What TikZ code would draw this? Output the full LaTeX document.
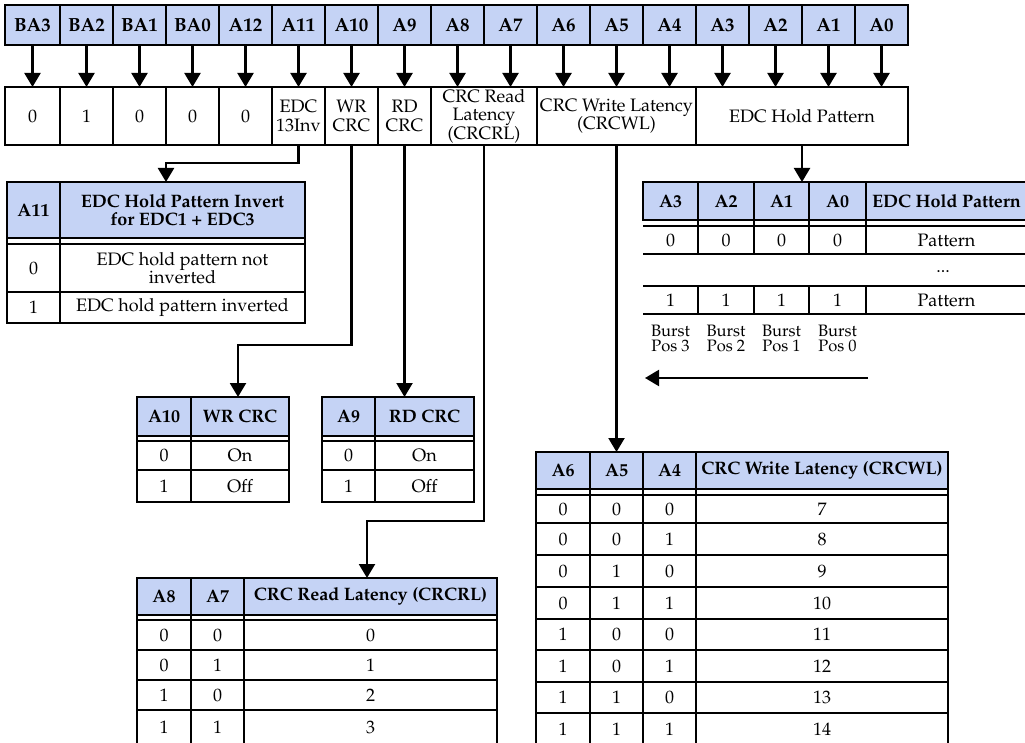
\documentclass[tikz,border=0pt]{standalone}
\usepackage[T1]{fontenc}
\renewcommand{\rmdefault}{ppl}
\usetikzlibrary{arrows.meta}
\definecolor{hdr}{RGB}{197,211,245}
\newcommand{\regf}{\fontsize{18}{18.5}\selectfont}
\newcommand{\boldf}{\fontsize{18}{18.5}\selectfont\bfseries}
\newcommand{\topf}{\fontsize{19}{19}\selectfont\bfseries}
\newcommand{\burstf}{\fontsize{16.5}{15}\selectfont}
\newcommand{\mkcell}[7]{\node[#1, minimum width={#4pt-#3pt}, minimum height={#6pt-#5pt}] (#2) at (#3,#5) {#7};}
\tikzset{
  every node/.style={outer sep=0pt},
  cellb/.style={draw, line width=2.2pt, inner sep=1pt, anchor=north west, align=center, font=\regf},
  hcell/.style={cellb, fill=hdr, font=\boldf},
  tcell/.style={hcell, font=\topf},
  bcell/.style={cellb},
  ncell/.style={inner sep=1pt, anchor=north west, align=center, font=\regf},
  conn/.style={line width=2.2pt, -{Triangle[width=16pt,length=14pt]}},
  rule/.style={line width=2.2pt},
}
\begin{document}
\begin{tikzpicture}[x=1pt,y=-1pt]
\path[fill=white] (0,0) rectangle (1025,743);
\useasboundingbox (0,0) rectangle (1025,743);

% top row
\node[tcell, minimum width=55pt, minimum height=40pt] (t0) at (5,5) {BA3};
\foreach \i/\l in {1/BA2,2/BA1,3/BA0,4/A12,5/A11,6/A10,7/A9,8/A8,9/A7,10/A6,11/A5,12/A4,13/A3,14/A2,15/A1,16/A0}
  \node[tcell, minimum width=53pt, minimum height=40pt] (t\i) at ({7+53*\i},5) {\l};

% second row
\mkcell{bcell}{b0}{5}{60}{87}{145}{0}
\mkcell{bcell}{b1}{60}{113}{87}{145}{1}
\mkcell{bcell}{b2}{113}{166}{87}{145}{0}
\mkcell{bcell}{b3}{166}{219}{87}{145}{0}
\mkcell{bcell}{b4}{219}{272}{87}{145}{0}
\mkcell{bcell}{b5}{272}{325}{87}{145}{EDC\\13Inv}
\mkcell{bcell}{b6}{325}{378}{87}{145}{WR\\CRC}
\mkcell{bcell}{b7}{378}{431}{87}{145}{RD\\CRC}
\mkcell{bcell}{b8}{431}{537}{87}{145}{CRC Read\\Latency\\(CRCRL)}
\mkcell{bcell}{b9}{537}{696}{87}{145}{CRC Write Latency\\(CRCWL)}
\mkcell{bcell}{b10}{696}{908}{87}{145}{EDC Hold Pattern}

\foreach \i/\j in {0/0,1/1,2/2,3/3,4/4,5/5,6/6,7/7,8/8,9/8,10/9,11/9,12/9,13/10,14/10,15/10,16/10}
  \draw[conn] (t\i.south) -- (t\i.south |- b\j.north);

% A11 table
\mkcell{hcell}{a11h1}{7}{60}{182}{238}{A11}
\mkcell{hcell}{a11h2}{60}{305}{182}{238}{EDC Hold Pattern Invert\\for EDC1 + EDC3}
\mkcell{bcell}{a11a1}{7}{60}{244}{292}{0}
\mkcell{bcell}{a11a2}{60}{305}{244}{292}{EDC hold pattern not\\inverted}
\mkcell{bcell}{a11b1}{7}{60}{292}{323}{1}
\mkcell{bcell}{a11b2}{60}{305}{292}{323}{EDC hold pattern inverted}
\draw[rule] (a11h1.south west) -- (a11a1.north west) (a11h1.south east) -- (a11a1.north east) (a11h2.south east) -- (a11a2.north east);
\coordinate (k11) at (166,163);
\draw[conn] (b5.south) |- (k11) -- (k11 |- a11h2.north);

% EDC hold pattern table
\mkcell{hcell}{eh1}{643}{698}{182}{220}{A3}
\mkcell{hcell}{eh2}{698}{754}{182}{220}{A2}
\mkcell{hcell}{eh3}{754}{809}{182}{220}{A1}
\mkcell{hcell}{eh4}{809}{866}{182}{220}{A0}
\mkcell{hcell}{eh5}{866}{1027}{182}{220}{EDC Hold Pattern}
\mkcell{ncell}{ea1}{643}{698}{226}{254}{0}
\mkcell{ncell}{ea2}{698}{754}{226}{254}{0}
\mkcell{ncell}{ea3}{754}{809}{226}{254}{0}
\mkcell{ncell}{ea4}{809}{866}{226}{254}{0}
\mkcell{ncell}{ea5}{866}{1027}{226}{254}{Pattern}
\mkcell{ncell}{eb1}{643}{698}{286}{314}{1}
\mkcell{ncell}{eb2}{698}{754}{286}{314}{1}
\mkcell{ncell}{eb3}{754}{809}{286}{314}{1}
\mkcell{ncell}{eb4}{809}{866}{286}{314}{1}
\mkcell{ncell}{eb5}{866}{1027}{286}{314}{Pattern}
\draw[rule] (ea1.north west) -- (ea5.north east) (ea1.south west) -- (ea5.south east)
            (eb1.north west) -- (eb5.north east) (eb1.south west) -- (eb5.south east);
\foreach \c in {1,2,3,4}
  \draw[rule] (eh\c.south east) -- (ea\c.south east) (eb\c.north east) -- (eb\c.south east);
\node[font=\regf, inner sep=0pt] (edots) at (943,271) {...};
\draw[conn] (b10.south) -- (b10.south |- eh3.north);
\node[font=\burstf, align=center, inner sep=0pt] (bp3) at (670.5,338) {Burst\\Pos 3};
\node[font=\burstf, align=center, inner sep=0pt] (bp2) at (726,338) {Burst\\Pos 2};
\node[font=\burstf, align=center, inner sep=0pt] (bp1) at (781.5,338) {Burst\\Pos 1};
\node[font=\burstf, align=center, inner sep=0pt] (bp0) at (837.5,338) {Burst\\Pos 0};
\coordinate (la1) at (868,378);
\coordinate (la2) at (645,378);
\draw[conn] (la1) -- (la2);

% WR CRC table
\mkcell{hcell}{wrh1}{137}{191}{397}{436}{A10}
\mkcell{hcell}{wrh2}{191}{289}{397}{436}{WR CRC}
\mkcell{bcell}{wra1}{137}{191}{441}{470}{0}
\mkcell{bcell}{wra2}{191}{289}{441}{470}{On}
\mkcell{bcell}{wrb1}{137}{191}{470}{502}{1}
\mkcell{bcell}{wrb2}{191}{289}{470}{502}{Off}
\draw[rule] (wrh1.south west) -- (wra1.north west) (wrh1.south east) -- (wra1.north east) (wrh2.south east) -- (wra2.north east);
\coordinate (k10) at (238,345);
\draw[conn] (b6.south) |- (k10) -- (k10 |- wrh2.north);

% RD CRC table
\mkcell{hcell}{rdh1}{322}{375}{397}{436}{A9}
\mkcell{hcell}{rdh2}{375}{474}{397}{436}{RD CRC}
\mkcell{bcell}{rda1}{322}{375}{441}{470}{0}
\mkcell{bcell}{rda2}{375}{474}{441}{470}{On}
\mkcell{bcell}{rdb1}{322}{375}{470}{502}{1}
\mkcell{bcell}{rdb2}{375}{474}{470}{502}{Off}
\draw[rule] (rdh1.south west) -- (rda1.north west) (rdh1.south east) -- (rda1.north east) (rdh2.south east) -- (rda2.north east);
\draw[conn] (b7.south) -- (b7.south |- rdh2.north);

% CRC read latency table
\mkcell{hcell}{rlh1}{137}{191}{578}{615}{A8}
\mkcell{hcell}{rlh2}{191}{244}{578}{615}{A7}
\mkcell{hcell}{rlh3}{244}{497}{578}{615}{CRC Read Latency (CRCRL)}
\foreach \r/\ya/\yb/\p/\q/\v in {1/620/650/0/0/0,2/650/680/0/1/1,3/680/710/1/0/2,4/710/745/1/1/3}{
  \mkcell{bcell}{rl\r-1}{137}{191}{\ya}{\yb}{\p}
  \mkcell{bcell}{rl\r-2}{191}{244}{\ya}{\yb}{\q}
  \mkcell{bcell}{rl\r-3}{244}{497}{\ya}{\yb}{\v}
}
\draw[rule] (rlh1.south west) -- (rl1-1.north west) (rlh1.south east) -- (rl1-1.north east)
            (rlh2.south east) -- (rl1-2.north east) (rlh3.south east) -- (rl1-3.north east);
\coordinate (k8) at (367,521);
\draw[conn] (b8.south) |- (k8) -- (k8 |- rlh3.north);

% CRC write latency table
\mkcell{hcell}{wlh1}{536}{590}{452}{489}{A6}
\mkcell{hcell}{wlh2}{590}{643}{452}{489}{A5}
\mkcell{hcell}{wlh3}{643}{696}{452}{489}{A4}
\mkcell{hcell}{wlh4}{696}{948}{452}{489}{CRC Write Latency (CRCWL)}
\foreach \r/\ya/\yb/\p/\q/\s/\v in {1/495/523/0/0/0/7,2/523/555/0/0/1/8,3/555/587/0/1/0/9,4/587/619/0/1/1/10,5/619/650/1/0/0/11,6/650/682/1/0/1/12,7/682/713/1/1/0/13,8/713/745/1/1/1/14}{
  \mkcell{bcell}{wl\r-1}{536}{590}{\ya}{\yb}{\p}
  \mkcell{bcell}{wl\r-2}{590}{643}{\ya}{\yb}{\q}
  \mkcell{bcell}{wl\r-3}{643}{696}{\ya}{\yb}{\s}
  \mkcell{bcell}{wl\r-4}{696}{948}{\ya}{\yb}{\v}
}
\draw[rule] (wlh1.south west) -- (wl1-1.north west) (wlh1.south east) -- (wl1-1.north east)
            (wlh2.south east) -- (wl1-2.north east) (wlh3.south east) -- (wl1-3.north east)
            (wlh4.south east) -- (wl1-4.north east);
\draw[conn] (b9.south) -- (b9.south |- wlh2.north);
\end{tikzpicture}
\end{document}
